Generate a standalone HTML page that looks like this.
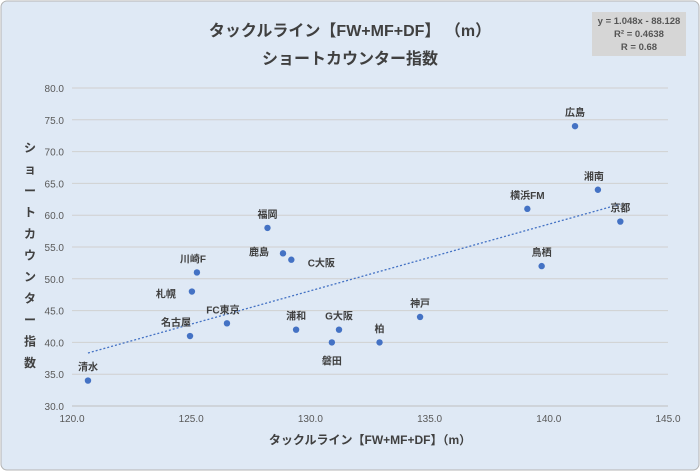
<!DOCTYPE html>
<html><head><meta charset="utf-8"><style>
body{margin:0;background:#fff;}
svg text{font-family:"Liberation Sans","Noto Sans CJK JP",sans-serif;}
</style></head><body>
<svg width="700" height="471" xmlns="http://www.w3.org/2000/svg">
<rect x="1" y="1" width="698" height="469" rx="6" fill="#dfe9f5" stroke="#b4b4b4"/>
<text x="350" y="36" text-anchor="middle" font-size="16" font-weight="bold" fill="#404040">タックルライン【FW+MF+DF】 （m）</text>
<text x="350" y="64" text-anchor="middle" font-size="16" font-weight="bold" fill="#404040">ショートカウンター指数</text>
<g>
<rect x="592" y="12" width="94" height="44" fill="#d6d6d6"/>
<text x="639" y="24" text-anchor="middle" font-size="9.5" font-weight="bold" fill="#555">y = 1.048x - 88.128</text>
<text x="639" y="37" text-anchor="middle" font-size="9.5" font-weight="bold" fill="#555">R² = 0.4638</text>
<text x="639" y="50" text-anchor="middle" font-size="9.5" font-weight="bold" fill="#555">R = 0.68</text>
</g>
<g id="grid"></g>
<g id="axes"></g>
<line id="trend" stroke="#4472c4" stroke-width="1.3" stroke-dasharray="2,2"/>
<g id="pts"></g>
<g id="yt"></g>
<text x="370" y="444" text-anchor="middle" font-size="12" font-weight="bold" fill="#404040">タックルライン【FW+MF+DF】（m）</text>
</svg>
<script>
const teams=["清水","名古屋","札幌","川崎F","FC東京","福岡","鹿島","C大阪","浦和","G大阪","磐田","柏","神戸","横浜FM","鳥栖","広島","湘南","京都"];
const xVals=[120.67,124.95,125.03,125.24,126.5,128.2,128.85,129.2,129.4,131.2,130.9,132.9,134.6,139.1,139.7,141.1,142.06,143.0];
const yVals=[34,41,48,51,43,58,54,53,42,42,40,40,44,61,52,74,64,59];
const xTicks=[120,125,130,135,140,145];
const yTicks=[30,35,40,45,50,55,60,65,70,75,80];
const slope=1.048, intercept=-88.128;
const labelOff=[[0,-14],[-14,-14],[-26,2],[-4,-14],[-4,-14],[0,-14],[-24,-2],[30,3],[0,-14],[0,-14],[0,18],[0,-14],[0,-14],[0,-14],[0,-14],[0,-14],[-4,-14],[0,-14]];
const X0=72,X1=668,Y0=406,Y1=88;
const sx=v=>X0+(v-120)/(145-120)*(X1-X0);
const sy=v=>Y0-(v-30)/(80-30)*(Y0-Y1);
const NS="http://www.w3.org/2000/svg";
function mk(t,a,p){const e=document.createElementNS(NS,t);for(const k in a)e.setAttribute(k,a[k]);p.appendChild(e);return e;}
const grid=document.getElementById('grid'),axes=document.getElementById('axes'),pts=document.getElementById('pts');
yTicks.forEach(v=>{
 const l=mk('line',{x1:X0,x2:X1,y1:sy(v),y2:sy(v),stroke:v===30?'#bfbfbf':'#d0d0d0','stroke-width':1},grid);
 
 
 const t=mk('text',{x:X0-8,y:sy(v)+4,'text-anchor':'end','font-size':10,fill:'#595959'},axes);
 t.textContent=v.toFixed(1);
 
 
});
xTicks.forEach(v=>{
 const t=mk('text',{x:sx(v),y:Y0+16,'text-anchor':'middle','font-size':10,fill:'#595959'},axes);
 t.textContent=v.toFixed(1);
 
 
});
const tr=document.getElementById('trend');
const xa=Math.min(...xVals), xb=Math.max(...xVals);
tr.setAttribute('x1',sx(xa));tr.setAttribute('y1',sy(slope*xa+intercept));
tr.setAttribute('x2',sx(xb));tr.setAttribute('y2',sy(slope*xb+intercept));


teams.forEach((n,i)=>{
 const cx=sx(xVals[i]),cy=sy(yVals[i]);
 const c=mk('circle',{cx:cx,cy:cy,r:3.2,fill:'#4472c4'},pts);
 
 
 const t=mk('text',{x:cx+labelOff[i][0],y:cy+labelOff[i][1]+4,'text-anchor':'middle','font-size':10,'font-weight':'bold',fill:'#404040'},pts);
 t.textContent=n;
 
 
});
const yt=document.getElementById('yt');
"ショートカウンター指数".split('').forEach((ch,i)=>{
 const t=mk('text',{x:30,y:152+i*21.5,'text-anchor':'middle','font-size':12,'font-weight':'bold',fill:'#404040'},yt);
 t.textContent=ch;
});
</script>
</body></html>
